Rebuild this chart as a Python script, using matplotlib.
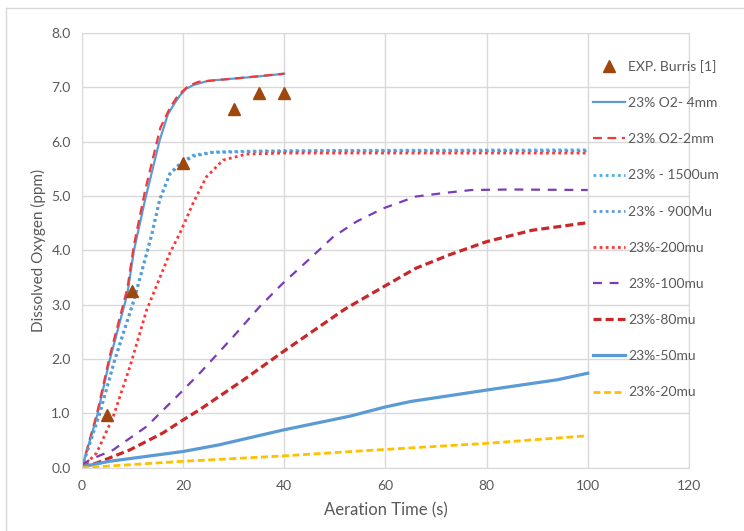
import matplotlib.pyplot as plt
from matplotlib.lines import Line2D

plt.rcParams['font.family'] = ['Lato', 'DejaVu Sans']

# experimental points
exp_t = [5, 10, 20, 30, 35, 40]
exp_do = [0.97, 3.25, 5.6, 6.6, 6.9, 6.9]

# model curves
t_4mm = [0, 3, 5.5, 9, 10.3, 12.5, 15.4, 17, 18.3, 19.4, 20.6, 22, 25, 30, 35, 40]
do_4mm = [0, 0.95, 1.98, 3.2, 4.0, 4.93, 6.03, 6.5, 6.7, 6.85, 6.97, 7.04, 7.12, 7.16, 7.2, 7.25]

t_2mm = [0, 3, 5.5, 9, 10.3, 12.5, 15.5, 17.4, 19, 21, 23, 30, 40]
do_2mm = [0, 1.0, 2.05, 3.3, 4.1, 5.1, 6.25, 6.62, 6.85, 7.02, 7.1, 7.16, 7.25]

t_1500 = [0, 3.5, 6.5, 10.3, 13.8, 15.4, 17.4, 19.4, 22, 25.9, 35, 50, 100]
do_1500 = [0, 1.0, 2.0, 3.1, 4.3, 4.95, 5.42, 5.6, 5.75, 5.81, 5.83, 5.84, 5.85]

t_900 = [0, 3.5, 6.5, 10.3, 13.8, 15.4, 17.4, 19.4, 22, 25.9, 35, 50, 100]
do_900 = [0, 0.98, 1.97, 3.07, 4.27, 4.92, 5.4, 5.58, 5.73, 5.8, 5.82, 5.83, 5.83]

t_200 = [0, 2.9, 6.2, 9.5, 12.8, 17.4, 19.4, 22, 24.6, 27.9, 32.5, 40, 100]
do_200 = [0, 0.27, 0.94, 1.86, 2.9, 3.95, 4.32, 4.87, 5.35, 5.66, 5.77, 5.79, 5.79]

t_100 = [0, 1.6, 6.2, 12.8, 19.4, 23.3, 30, 35.2, 39.8, 45.1, 49.7, 54.3, 59.5, 66, 72, 77, 85, 100]
do_100 = [0.05, 0.15, 0.33, 0.76, 1.37, 1.74, 2.42, 2.97, 3.4, 3.85, 4.25, 4.53, 4.77, 4.99, 5.06, 5.11, 5.12, 5.11]

t_80 = [0, 3, 9.5, 16, 20, 23.3, 32, 40, 52, 60, 66, 72.7, 80, 89, 100]
do_80 = [0.02, 0.09, 0.33, 0.64, 0.88, 1.07, 1.62, 2.15, 2.92, 3.35, 3.67, 3.92, 4.16, 4.37, 4.51]

t_50 = [0, 5.5, 20, 27, 40, 53, 60, 65, 80, 94, 100]
do_50 = [0.02, 0.12, 0.3, 0.42, 0.7, 0.95, 1.12, 1.22, 1.43, 1.62, 1.74]

t_20 = [0, 20, 40, 55, 80, 100]
do_20 = [0, 0.12, 0.22, 0.31, 0.45, 0.59]

fig = plt.figure(figsize=(7.44, 5.31), dpi=100)
ax = fig.add_axes([0.110, 0.119, 0.816, 0.819])

# chart area border (left/top visible)
fig.add_artist(Line2D([6/744, 6/744], [0, 1 - 8/531], color='#D9D9D9', lw=1))
fig.add_artist(Line2D([6/744, 1], [1 - 8/531, 1 - 8/531], color='#D9D9D9', lw=1))

ax.plot(exp_t, exp_do, '^', color='#9E480E', ms=9, label='EXP. Burris [1]', zorder=5)
ax.plot(t_4mm, do_4mm, '-', color='#5B9BD5', lw=1.6, label='23% O2- 4mm')
ax.plot(t_2mm, do_2mm, color='#F03A3A', lw=1.6, ls=(0, (4, 2.5)), label='23% O2-2mm')
ax.plot(t_1500, do_1500, color='#4FAEE8', lw=2, ls=(0, (1, 1.2)), label='23% - 1500um')
ax.plot(t_900, do_900, color='#5B9BD5', lw=2, ls=(0, (1, 1.2)), label='23% - 900Mu')
ax.plot(t_200, do_200, color='#FF3535', lw=2, ls=(0, (1, 1.2)), label='23%-200mu')
ax.plot(t_100, do_100, color='#7A3DB5', lw=1.6, ls=(0, (4, 3.5)), label='23%-100mu')
ax.plot(t_80, do_80, color='#C8282A', lw=2.3, ls=(0, (2.5, 1.3)), label='23%-80mu')
ax.plot(t_50, do_50, '-', color='#5B9BD5', lw=2.3, label='23%-50mu')
ax.plot(t_20, do_20, color='#FFC000', lw=2, ls=(0, (2.5, 1.3)), label='23%-20mu')

ax.set_xlim(0, 120)
ax.set_ylim(0, 8)
ax.set_xticks(range(0, 121, 20))
ax.set_yticks([i * 1.0 for i in range(9)])
ax.set_yticklabels([f'{i:.1f}' for i in range(9)])
ax.grid(True, color='#D9D9D9', lw=1)
ax.set_axisbelow(True)
for s in ax.spines.values():
    s.set_color('#D9D9D9')
ax.tick_params(length=0, colors='#595959', labelsize=10)
ax.tick_params(axis='x', pad=9)
ax.tick_params(axis='y', pad=8)

ax.set_xlabel('Aeration Time (s)', color='#595959', fontsize=12, labelpad=7)
ax.set_ylabel('Dissolved Oxygen (ppm)', color='#595959', fontsize=11, labelpad=4)

leg = ax.legend(loc='upper left', bbox_to_anchor=(593/744, 1 - 60/531),
                bbox_transform=fig.transFigure, frameon=False, fontsize=10,
                handlelength=2.3, handletextpad=0.25, labelspacing=1.74,
                borderaxespad=0, borderpad=0)
for txt in leg.get_texts():
    txt.set_color('#595959')

fig.savefig('out.png', dpi=100)
